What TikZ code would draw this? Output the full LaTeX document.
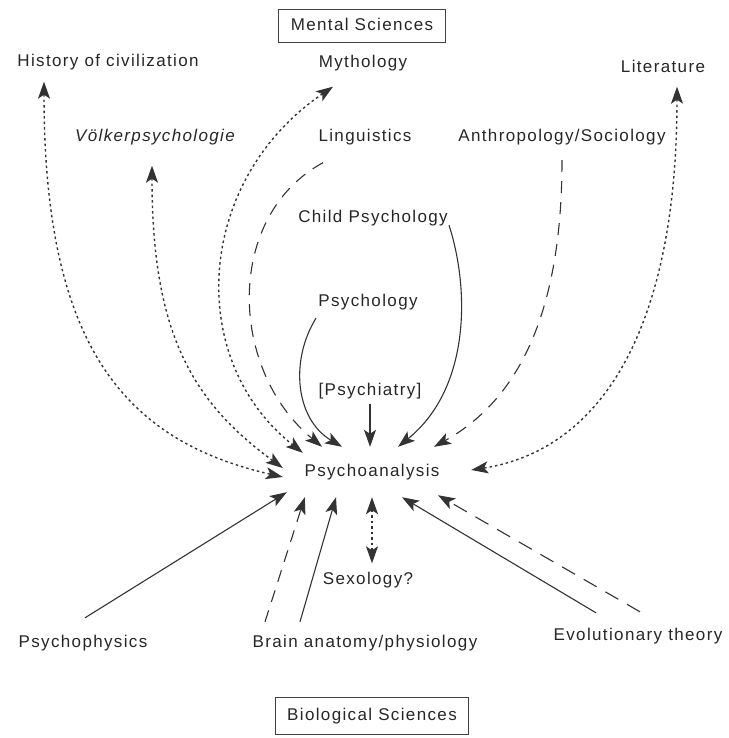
\documentclass[tikz,border=0pt]{standalone}
\usepackage{fontspec}
\setmainfont{Liberation Sans}[LetterSpace=8]
\usetikzlibrary{positioning,arrows.meta}
\tikzset{>={Stealth[length=17pt,width=12pt,inset=4pt]},
 standard edge/.style={line width=1.1pt,draw=black!80,->},
 dash edge/.style={standard edge,dash pattern=on 12pt off 9pt},
 dot edge/.style={standard edge,line width=1.4pt,dash pattern=on 2.5pt off 3pt}}

\begin{document}
\begin{tikzpicture}[x=1pt,y=1pt,on grid,
 topic/.style={font=\fontsize{17}{20}\selectfont,text=black!85,inner sep=0pt,text height=13pt,text depth=4pt},
 field/.style={topic,draw=black!75,line width=0.8pt,inner xsep=12pt,inner ysep=8pt}]
\useasboundingbox (0,0) rectangle (728,-738);

\node[topic,minimum width=178pt,minimum height=50pt] (PA) at (372,-472) {Psychoanalysis};
\node[field,above left=446pt and 10pt of PA] (MS) {Mental Sciences};
\node[topic,above left=410pt and 264pt of PA] (HC) {History of civilization};
\node[topic,above left=409pt and 9pt of PA] (MY) {Mythology};
\node[topic,above right=404pt and 291pt of PA] (LI) {Literature};
\node[topic,font=\fontsize{17}{20}\selectfont\itshape,above left=335pt and 217pt of PA] (VP) {Völkerpsychologie};
\node[topic,above left=335pt and 7pt of PA] (LG) {Linguistics};
\node[topic,above right=335pt and 190pt of PA] (AS) {Anthropology/Sociology};
\node[topic,above right=254pt and 1pt of PA] (CP) {Child Psychology};
\node[topic,above left=170pt and 4pt of PA] (PS) {Psychology};
\node[topic,above left=81pt and 2pt of PA] (PY) {[Psychiatry]};
\node[topic,below left=108pt and 4pt of PA] (SX) {Sexology?};
\node[topic,below left=171pt and 289pt of PA] (PP) {Psychophysics};
\node[topic,below left=171pt and 7pt of PA] (BA) {Brain anatomy/physiology};
\node[topic,below right=164pt and 266pt of PA] (ET) {Evolutionary theory};
\node[field,inner ysep=10pt,below=244pt of PA] (BS) {Biological Sciences};

% mental sciences
\draw[dot edge,<->] ([xshift=-64pt,yshift=-11pt]HC.south) .. controls +(0,-258) and +(-163,37) .. ([yshift=-5pt]PA.west);
\draw[dot edge,<->] ([xshift=-3pt,yshift=-20pt]VP.south) .. controls +(0,-164) and +(-93,68) .. ([yshift=4pt]PA.west);
\draw[dot edge,<->] ([xshift=-30pt,yshift=-15pt]MY.south) .. controls +(-138,-94) and +(-118,93) .. ([xshift=20pt,yshift=-6pt]PA.north west);
\draw[dash edge] ([xshift=-42pt,yshift=-17pt]LG.south) .. controls +(-98,-53) and +(-94,78) .. ([xshift=-50pt]PA.north);
\draw[standard edge] ([xshift=76pt,yshift=1.5pt]CP.south) .. controls +(21,-65) and +(72,58) .. ([xshift=26pt]PA.north);
\draw[dash edge] ([yshift=-14.5pt]AS.south) .. controls +(0,-150) and +(86,48) .. ([xshift=62pt]PA.north);
\draw[dot edge,<->] ([xshift=14pt,yshift=-10pt]LI.south) .. controls +(0,-244) and +(129,20) .. ([xshift=10pt,yshift=2pt]PA.east);
\draw[standard edge] ([xshift=-52pt,yshift=-7.5pt]PS.south) .. controls +(-26,-42) and +(-47,28) .. ([xshift=-30pt]PA.north);
\draw[standard edge] ([yshift=-4pt]PY.south) -- ([xshift=-2pt]PA.north);

% biological sciences
\draw[dot edge,<->] (PA.south) -- ([xshift=4pt,yshift=8pt]SX.north);
\draw[standard edge] ([xshift=2pt,yshift=16.5pt]PP.north) -- ([xshift=4pt,yshift=5pt]PA.south west);
\draw[dash edge] ([xshift=-100pt,yshift=12.5pt]BA.north) -- ([xshift=22pt]PA.south west);
\draw[standard edge] ([xshift=-65pt,yshift=12.5pt]BA.north) -- ([xshift=-36pt]PA.south);
\draw[standard edge] ([xshift=-42pt,yshift=14.5pt]ET.north) -- ([xshift=30pt]PA.south);
\draw[dash edge,dash pattern=on 15pt off 10pt] ([xshift=2pt,yshift=15.5pt]ET.north) -- ([xshift=66pt,yshift=2pt]PA.south);
\end{tikzpicture}
\end{document}
